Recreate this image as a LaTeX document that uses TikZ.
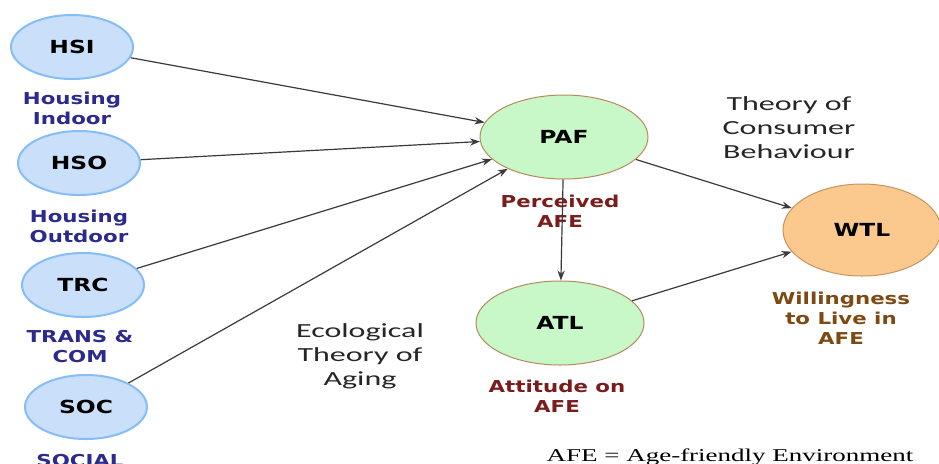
\documentclass[tikz,border=0pt]{standalone}
\usepackage{fontspec}
\usepackage{tikz}
\usetikzlibrary{shapes.geometric,arrows.meta}

\newfontfamily\nodefont[FakeStretch=1.3]{DejaVu Sans}
\newfontfamily\theoryfont[FakeStretch=1.6]{Carlito}
\newfontfamily\notefont[FakeStretch=1.5]{Liberation Serif}

\definecolor{blueFill}{HTML}{C9DFFA}
\definecolor{blueLine}{HTML}{86BDF7}
\definecolor{greenFill}{HTML}{C8F7C8}
\definecolor{greenLine}{HTML}{B48A5E}
\definecolor{orangeFill}{HTML}{FBC98E}
\definecolor{orangeLine}{HTML}{C8935C}
\definecolor{navyText}{HTML}{2C2A8C}
\definecolor{redText}{HTML}{7A1C1C}
\definecolor{brownText}{HTML}{7E4A14}
\definecolor{arrowGray}{HTML}{3A3A3A}

\begin{document}
\begin{tikzpicture}[x=0.5pt,y=-0.5pt,>={Stealth[length=5pt,width=3.6pt]},
    every node/.style={font=\nodefont\bfseries\fontsize{9}{11}\selectfont},
    construct/.style={ellipse,draw=blueLine,fill=blueFill,line width=1pt,
                      minimum width=61pt,minimum height=32pt,inner sep=0pt},
    mediator/.style={ellipse,draw=greenLine,fill=greenFill,line width=0.5pt,
                     minimum width=84pt,minimum height=42pt,inner sep=0pt},
    outcome/.style={ellipse,draw=orangeLine,fill=orangeFill,line width=0.5pt,
                    minimum width=79pt,minimum height=46pt,inner sep=0pt},
    caption/.style={align=center,font=\nodefont\bfseries\fontsize{8.2}{10}\selectfont},
    theory/.style={align=center,text=black!85,font=\theoryfont\fontsize{10}{12}\selectfont}]

  \useasboundingbox (0,0) rectangle (939,463);

  % exogenous constructs
  \node[construct] (HSI) at (72,47) {HSI};
  \node[construct] (HSO) at (79,163) {HSO};
  \node[construct] (TRC) at (83,285) {TRC};
  \node[construct] (SOC) at (86,407) {SOC};

  \node[caption,text=navyText] (hsiText) at (72,108) {Housing\\Indoor};
  \node[caption,text=navyText] (hsoText) at (79,226) {Housing\\Outdoor};
  \node[caption,text=navyText] (trcText) at (80,347) {TRANS \&\\COM};
  \node[caption,text=navyText,anchor=base] (socText) at (80,466) {SOCIAL};

  % mediators and outcome
  \node[mediator] (PAF) at (564,137) {PAF};
  \node[mediator] (ATL) at (560,323) {ATL};
  \node[outcome] (WTL) at (862,230) {WTL};

  \node[caption,text=redText] (pafText) at (560,211) {Perceived\\AFE};
  \node[caption,text=redText] (atlText) at (557,396) {Attitude on\\AFE};
  \node[caption,text=brownText] (wtlText) at (841,318) {Willingness\\to Live in\\AFE};

  % theories
  \node[theory] (consumer) at (789,128) {Theory of\\Consumer\\Behaviour};
  \node[theory] (ecology) at (360,356) {Ecological\\Theory of\\Aging};

  \node[anchor=base,font=\notefont\fontsize{9}{11}\selectfont] (note) at (730,461)
       {AFE = Age-friendly Environment};

  \begin{scope}[every edge/.style={draw=arrowGray,line width=0.6pt}]
    \path [->] (HSI) edge (PAF);
    \path [->] (HSO) edge (PAF);
    \path [->] (TRC) edge (PAF);
    \path [->] (SOC) edge (PAF);
    \path [->] (PAF) edge (ATL);
    \path [->] (PAF) edge (WTL);
    \path [->] (ATL) edge (WTL);
  \end{scope}
\end{tikzpicture}
\end{document}
